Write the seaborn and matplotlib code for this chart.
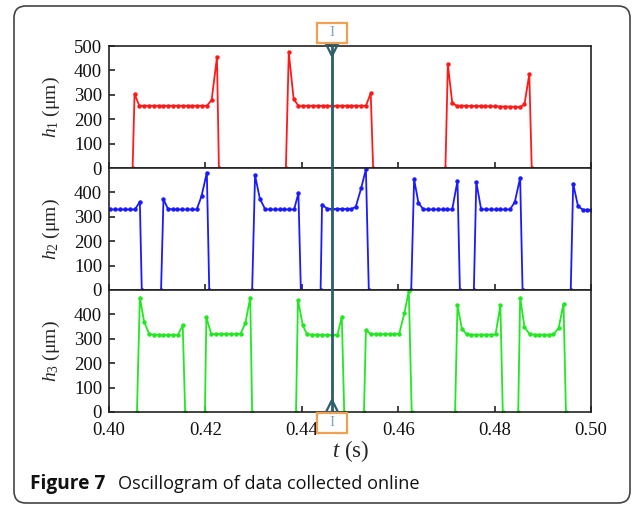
import numpy as np
import pandas as pd
import seaborn as sns
import matplotlib.pyplot as plt
from matplotlib.patches import FancyBboxPatch, Rectangle
from matplotlib.lines import Line2D

sns.set_style('ticks')
plt.rcParams['font.family'] = ['Liberation Serif', 'DejaVu Serif']
plt.rcParams['mathtext.fontset'] = 'custom'
plt.rcParams['mathtext.rm'] = 'Liberation Serif'
plt.rcParams['mathtext.it'] = 'Liberation Serif:italic'

# h1 (red) pulses, time in s, height in um
h1_t = [
    [0.4049, 0.4053, 0.4063, 0.4073, 0.4083, 0.4093, 0.4103, 0.4113, 0.4123, 0.4133,
     0.4143, 0.4153, 0.4163, 0.4173, 0.4183, 0.4193, 0.4203, 0.4213, 0.4224, 0.4228],
    [0.4367, 0.4373, 0.4383, 0.4393, 0.4403, 0.4413, 0.4423, 0.4433, 0.4443, 0.4453,
     0.4463, 0.4473, 0.4483, 0.4493, 0.4503, 0.4513, 0.4523, 0.4533, 0.4543, 0.4548],
    [0.4698, 0.4703, 0.4712, 0.4721, 0.4731, 0.4741, 0.4751, 0.4761, 0.4771, 0.4781,
     0.4791, 0.4801, 0.4812, 0.4822, 0.4832, 0.4842, 0.4853, 0.4862, 0.4872, 0.4877],
]
h1_v = [
    [0, 303, 255, 255, 255, 255, 255, 255, 255, 255,
     255, 255, 255, 255, 255, 255, 255, 279, 454, 0],
    [0, 474, 283, 255, 255, 255, 255, 255, 255, 255,
     255, 255, 255, 255, 255, 255, 255, 255, 306, 0],
    [0, 426, 268, 255, 255, 255, 254, 254, 254, 253,
     253, 253, 252, 252, 251, 251, 250, 261, 385, 0],
]

# h2 (blue)
h2_t = [
    [0.4002, 0.4012, 0.4022, 0.4033, 0.4043, 0.4054, 0.4064, 0.4068],
    [0.4108, 0.4113, 0.4122, 0.4132, 0.4142, 0.4152, 0.4162, 0.4172, 0.4182, 0.4192, 0.4203, 0.4208],
    [0.4297, 0.4303, 0.4313, 0.4324, 0.4334, 0.4344, 0.4354, 0.4364, 0.4374, 0.4384, 0.4393, 0.4398],
    [0.4439, 0.4442, 0.4452, 0.4462, 0.4472, 0.4483, 0.4493, 0.4503, 0.4512, 0.4523, 0.4533, 0.4539],
    [0.4627, 0.4633, 0.4642, 0.4652, 0.4662, 0.4672, 0.4682, 0.4692, 0.4702, 0.4712, 0.4723, 0.4728],
    [0.4757, 0.4762, 0.4772, 0.4782, 0.4792, 0.4802, 0.4812, 0.4822, 0.4832, 0.4842, 0.4853, 0.4858],
    [0.4958, 0.4963, 0.4973, 0.4983, 0.4992, 0.5000],
]
h2_v = [
    [330, 330, 330, 330, 330, 330, 362, 0],
    [0, 372, 334, 330, 330, 330, 330, 330, 330, 385, 481, 0],
    [0, 470, 374, 331, 330, 330, 330, 330, 330, 330, 397, 0],
    [0, 350, 334, 332, 332, 332, 332, 332, 341, 416, 495, 0],
    [0, 454, 357, 331, 330, 330, 330, 330, 330, 330, 447, 0],
    [0, 443, 331, 330, 330, 330, 330, 330, 330, 361, 460, 0],
    [0, 436, 344, 329, 329, 329],
]

# h3 (green)
h3_t = [
    [0.4058, 0.4064, 0.4073, 0.4084, 0.4094, 0.4104, 0.4113, 0.4123, 0.4133, 0.4143, 0.4153, 0.4158],
    [0.4199, 0.4202, 0.4212, 0.4222, 0.4232, 0.4243, 0.4253, 0.4263, 0.4273, 0.4283, 0.4293, 0.4297],
    [0.4388, 0.4392, 0.4402, 0.4411, 0.4421, 0.4432, 0.4442, 0.4453, 0.4463, 0.4474, 0.4483, 0.4488],
    [0.4529, 0.4533, 0.4543, 0.4553, 0.4563, 0.4573, 0.4582, 0.4592, 0.4602, 0.4613, 0.4622, 0.4628],
    [0.4718, 0.4723, 0.4732, 0.4742, 0.4752, 0.4762, 0.4772, 0.4782, 0.4792, 0.4802, 0.4812, 0.4817],
    [0.4849, 0.4853, 0.4862, 0.4873, 0.4883, 0.4893, 0.4902, 0.4912, 0.4922, 0.4933, 0.4943, 0.4948],
]
h3_v = [
    [0, 469, 368, 318, 317, 317, 316, 316, 316, 316, 355, 0],
    [0, 388, 320, 319, 319, 319, 319, 319, 321, 364, 469, 0],
    [0, 460, 355, 318, 317, 317, 316, 316, 316, 316, 391, 0],
    [0, 335, 320, 319, 319, 319, 319, 319, 320, 407, 496, 0],
    [0, 438, 342, 318, 317, 317, 317, 317, 317, 318, 438, 0],
    [0, 469, 348, 318, 317, 317, 317, 317, 318, 345, 444, 0],
]

x_ticks = [0.40, 0.42, 0.44, 0.46, 0.48, 0.50]
cursor_t = 0.4463


def to_frame(t_pulses, v_pulses):
    rows = []
    for i, (ts, vs) in enumerate(zip(t_pulses, v_pulses)):
        for t, v in zip(ts, vs):
            rows.append((i, t, v))
    return pd.DataFrame(rows, columns=['pulse', 't', 'h'])


panels = [
    (to_frame(h1_t, h1_v), '#ff1a1a', r'$h_1$ (μm)', [0, 100, 200, 300, 400, 500]),
    (to_frame(h2_t, h2_v), '#1a1aff', r'$h_2$ (μm)', [0, 100, 200, 300, 400]),
    (to_frame(h3_t, h3_v), '#22e822', r'$h_3$ (μm)', [0, 100, 200, 300, 400]),
]

W, H = 632, 505
fig = plt.figure(figsize=(W / 100, H / 100), dpi=100)

left = 109 / W
width = (591 - 109) / W
tops = [46, 168, 290]
ph = 122

axes = []
for k, (df, col, lab, yt) in enumerate(panels):
    ax = fig.add_axes([left, 1 - (tops[k] + ph) / H, width, ph / H])
    sns.lineplot(data=df, x='t', y='h', units='pulse', estimator=None, sort=False,
                 color=col, lw=1.3, marker='o', markersize=3.2, markeredgewidth=0,
                 legend=False, ax=ax)
    ax.set_xlim(0.40, 0.50)
    ax.set_ylim(0, 500)
    ax.set_xticks(x_ticks)
    ax.set_yticks(yt)
    ax.tick_params(direction='in', length=4, width=1.1, labelsize=13.5, pad=5,
                   colors='#111111')
    if k < 2:
        ax.set_xticklabels([])
    else:
        ax.set_xticklabels([f'{v:.2f}' for v in x_ticks])
        ax.tick_params(axis='x', pad=7)
    ax.set_xlabel('')
    ax.set_ylabel(lab, fontsize=14)
    ax.yaxis.set_label_coords(-0.098, 0.5)
    for s in ax.spines.values():
        s.set_linewidth(1.2)
        s.set_color('#222222')
    axes.append(ax)

fig.text(351 / W, 1 - 451 / H, r'$t$ (s)', fontsize=16.5, ha='center', va='center')

# cursor line across the three panels
fig.canvas.draw()
xpix = axes[0].transData.transform((cursor_t, 0))[0]
xf = xpix / W
cur_col = '#2b5d6b'
fig.add_artist(Line2D([xf, xf], [1 - 44 / H, 1 - 411 / H], transform=fig.transFigure,
                      color=cur_col, lw=2, zorder=10))
fig.add_artist(Line2D([xf], [1 - 50 / H], transform=fig.transFigure, marker='v',
                      markersize=8, markerfacecolor='none', markeredgecolor=cur_col,
                      markeredgewidth=1.6, zorder=10))
fig.add_artist(Line2D([xf], [1 - 406 / H], transform=fig.transFigure, marker='^',
                      markersize=8, markerfacecolor='none', markeredgecolor=cur_col,
                      markeredgewidth=1.6, zorder=10))

for (y0, y1) in [(23, 42.5), (413, 432.5)]:
    fig.add_artist(Rectangle(((xpix - 15) / W, 1 - y1 / H), 30 / W, (y1 - y0) / H,
                             transform=fig.transFigure, facecolor='white',
                             edgecolor='#f0a050', lw=1.6, zorder=11))
    fig.text(xf, 1 - (y0 + y1) / 2 / H, 'I', color='#7aa8c0', fontsize=11,
             ha='center', va='center', zorder=12)

# caption and frame
fig.text(30 / W, 1 - 484 / H, 'Figure 7', family='Open Sans', weight='bold',
         fontsize=13.8, va='center', color='#111111')
fig.text(118 / W, 1 - 484 / H, 'Oscillogram of data collected online', family='Open Sans',
         fontsize=13.1, va='center', color='#111111')
fig.add_artist(FancyBboxPatch((14, 2), 616, 497, boxstyle='round,pad=0,rounding_size=12',
                              transform=None, facecolor='none', edgecolor='#444444', lw=1.2))

fig.savefig('out.png', dpi=100)
